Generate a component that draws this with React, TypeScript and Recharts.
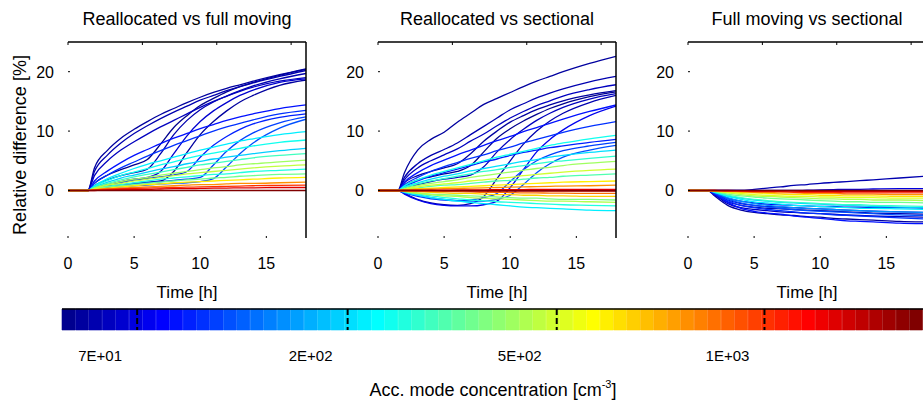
import React from "react"
import { LineChart, Line, XAxis, YAxis, BarChart, Bar, Cell } from "recharts"

const FONT = '"Liberation Sans", Arial, Helvetica, sans-serif'

// time grid [h] shared by every curve
const hours = [0, 1.5, 2, 3, 4, 5, 6, 7, 8, 9, 10, 11, 12, 13, 14, 16, 18]
const xTicks = [0, 5, 10, 15]
const yTicks = [0, 10, 20]
const xDomain = [0, 18]
const yDomain = [-8, 25]

const panelTitles = ["Reallocated vs full moving", "Reallocated vs sectional", "Full moving vs sectional"]

// colour level of each curve (index into the 64-step jet colormap of the colorbar)
const realFullLevels = [1, 2, 3, 0, 2, 4, 1, 8, 10, 9, 11, 12, 22, 24, 20, 27, 33, 35, 25, 30, 40, 46, 52, 57, 63]
// relative difference [%] of each curve at the times in `hours`
const realFullValues = [
    [0, 0, 3.8, 6.8, 8.8, 10.3, 11.6, 12.8, 13.8, 14.8, 15.7, 16.5, 17.2, 17.8, 18.4, 19.5, 20.5],
    [0, 0, 3.2, 6.0, 8.0, 9.6, 10.9, 12.1, 13.2, 14.2, 15.2, 16.0, 16.8, 17.5, 18.1, 19.2, 20.2],
    [0, 0, 2.5, 5.0, 6.8, 8.2, 9.5, 10.7, 11.8, 12.9, 14.0, 15.0, 15.9, 16.7, 17.4, 18.4, 19.0],
    [0, 0, 1.2, 2.6, 3.5, 4.3, 5.2, 7.8, 10.6, 12.6, 14.3, 15.5, 16.6, 17.5, 18.2, 19.4, 20.4],
    [0, 0, 0.8, 1.8, 2.5, 3.0, 3.6, 6.2, 9.4, 11.8, 13.6, 14.9, 15.9, 16.8, 17.6, 18.8, 19.7],
    [0, 0, 0.5, 1.0, 1.5, 1.9, 2.2, 3.2, 6.2, 9.2, 11.6, 13.4, 14.8, 16.0, 16.9, 18.2, 18.8],
    [0, 0, 0.3, 0.7, 0.9, 1.2, 1.4, 1.6, 3.2, 6.4, 9.4, 11.6, 13.4, 14.9, 16.0, 17.7, 18.6],
    [0, 0, 1.6, 3.3, 4.7, 5.9, 6.9, 7.9, 8.8, 9.6, 10.4, 11.1, 11.8, 12.4, 12.9, 13.8, 14.4],
    [0, 0, 1.2, 2.6, 3.8, 4.8, 5.8, 6.7, 7.6, 8.4, 9.2, 10.0, 10.7, 11.3, 11.9, 12.9, 13.5],
    [0, 0, 0.5, 0.9, 1.3, 1.7, 2.0, 2.3, 2.6, 3.2, 5.6, 7.6, 9.1, 10.3, 11.2, 12.3, 12.9],
    [0, 0, 0.4, 0.7, 0.9, 1.1, 1.3, 1.5, 1.7, 1.9, 2.2, 4.3, 6.6, 8.4, 9.7, 11.4, 12.4],
    [0, 0, 0.3, 0.5, 0.6, 0.8, 0.9, 1.1, 1.2, 1.3, 1.5, 2.0, 4.0, 6.2, 8.0, 10.5, 12.0],
    [0, 0, 0.8, 2.0, 2.9, 3.7, 4.4, 5.0, 5.6, 6.2, 6.8, 7.3, 7.8, 8.3, 8.7, 9.4, 9.9],
    [0, 0, 0.7, 1.7, 2.5, 3.1, 3.7, 4.3, 4.8, 5.4, 5.9, 6.3, 6.7, 7.1, 7.5, 8.1, 8.5],
    [0, 0, 0.6, 1.4, 2.1, 2.6, 3.1, 3.6, 4.0, 4.5, 4.9, 5.3, 5.6, 5.9, 6.2, 6.7, 7.1],
    [0, 0, 0.5, 1.2, 1.8, 2.3, 2.7, 3.1, 3.5, 3.9, 4.3, 4.6, 4.9, 5.2, 5.5, 5.9, 6.2],
    [0, 0, 0.4, 1.0, 1.5, 1.9, 2.2, 2.6, 2.9, 3.2, 3.5, 3.8, 4.0, 4.3, 4.5, 4.8, 5.1],
    [0, 0, 0.3, 0.9, 1.2, 1.6, 1.9, 2.2, 2.5, 2.8, 3.0, 3.2, 3.4, 3.6, 3.8, 4.1, 4.3],
    [0, 0, 0.3, 0.7, 1.0, 1.3, 1.6, 1.9, 2.1, 2.3, 2.5, 2.7, 2.8, 3.0, 3.2, 3.4, 3.6],
    [0, 0, 0.2, 0.6, 0.8, 1.0, 1.2, 1.4, 1.6, 1.8, 1.9, 2.1, 2.2, 2.4, 2.5, 2.7, 2.8],
    [0, 0, 0.2, 0.4, 0.6, 0.8, 1.0, 1.1, 1.3, 1.4, 1.5, 1.6, 1.7, 1.8, 1.9, 2.1, 2.2],
    [0, 0, 0.1, 0.3, 0.4, 0.5, 0.6, 0.7, 0.8, 0.9, 1.0, 1.0, 1.1, 1.2, 1.2, 1.3, 1.4],
    [0, 0, 0.1, 0.2, 0.3, 0.35, 0.4, 0.45, 0.5, 0.55, 0.6, 0.65, 0.7, 0.75, 0.8, 0.85, 0.9],
    [0, 0, 0, 0.1, 0.15, 0.2, 0.2, 0.25, 0.3, 0.3, 0.35, 0.4, 0.4, 0.45, 0.45, 0.5, 0.5],
    [0, 0, 0, 0, 0, 0, 0, 0, 0, 0, 0, 0, 0, 0, 0, 0, 0],
]

const realSectLevels = [1, 2, 3, 1, 0, 3, 2, 6, 8, 10, 9, 11, 12, 24, 21, 26, 33, 36, 28, 40, 46, 55, 22, 25, 34, 31, 42, 48, 60, 63]
const realSectValues = [
    [0, 0, 3.0, 6.8, 8.6, 9.8, 11.5, 13.0, 14.5, 15.5, 16.5, 17.5, 18.4, 19.2, 20.0, 21.4, 22.6],
    [0, 0, 2.2, 4.5, 5.9, 6.9, 8.0, 9.4, 10.8, 12.2, 13.6, 14.6, 15.6, 16.4, 17.1, 18.3, 19.2],
    [0, 0, 1.8, 3.8, 5.0, 6.0, 7.0, 8.3, 9.5, 10.9, 12.2, 13.3, 14.3, 15.1, 15.9, 17.0, 17.8],
    [0, 0, 1.3, 2.5, 3.2, 3.8, 4.5, 6.2, 8.3, 10.0, 11.5, 12.6, 13.6, 14.4, 15.1, 16.1, 16.8],
    [0, 0, 0.8, 1.8, 2.3, 2.8, 3.2, 4.2, 6.5, 8.8, 10.4, 11.7, 12.8, 13.8, 14.6, 15.8, 16.6],
    [0, 0, 0.5, 1.0, 1.5, 1.9, 2.2, 2.6, 4.0, 6.5, 8.6, 10.3, 11.8, 13.0, 14.0, 15.4, 16.3],
    [0, 0, -0.5, -1.5, -2.1, -2.4, -2.5, -2.2, -1.0, 2.0, 5.0, 7.8, 10.0, 11.7, 13.0, 14.8, 16.0],
    [0, 0, -0.6, -1.6, -2.2, -2.5, -2.6, -2.6, -2.4, -1.8, 0.5, 3.5, 6.5, 8.6, 10.2, 12.6, 14.2],
    [0, 0, 1.4, 3.0, 4.2, 5.1, 6.0, 6.8, 7.6, 8.4, 9.1, 9.9, 10.6, 11.3, 12.0, 13.3, 14.4],
    [0, 0, 1.0, 2.2, 3.2, 4.0, 4.7, 5.4, 6.0, 6.7, 7.3, 8.0, 8.6, 9.2, 9.8, 10.8, 11.6],
    [0, 0, 0.7, 1.6, 2.4, 3.0, 3.6, 4.2, 4.8, 5.3, 5.9, 6.4, 6.8, 7.2, 7.5, 8.1, 8.6],
    [0, 0, -0.4, -1.0, -1.4, -1.6, -1.7, -1.6, -1.2, -0.5, 1.5, 3.5, 5.0, 6.0, 6.7, 7.5, 8.1],
    [0, 0, -0.3, -0.8, -1.2, -1.5, -1.7, -1.8, -1.8, -1.5, -0.8, 1.0, 3.0, 4.5, 5.6, 6.8, 7.6],
    [0, 0, 0.8, 1.8, 2.6, 3.2, 3.8, 4.4, 5.0, 5.6, 6.1, 6.6, 7.1, 7.6, 8.0, 8.7, 9.3],
    [0, 0, 0.6, 1.3, 1.9, 2.4, 2.8, 3.3, 3.7, 4.1, 4.5, 4.9, 5.2, 5.6, 5.9, 6.4, 6.8],
    [0, 0, 0.5, 1.1, 1.6, 2.0, 2.4, 2.8, 3.2, 3.5, 3.9, 4.2, 4.5, 4.8, 5.0, 5.4, 5.8],
    [0, 0, 0.3, 0.8, 1.2, 1.5, 1.8, 2.2, 2.5, 2.8, 3.1, 3.4, 3.7, 3.9, 4.2, 4.6, 4.9],
    [0, 0, 0.2, 0.6, 0.9, 1.1, 1.3, 1.6, 1.8, 2.0, 2.2, 2.5, 2.7, 2.9, 3.1, 3.4, 3.6],
    [0, 0, 0.2, 0.4, 0.7, 0.9, 1.0, 1.2, 1.4, 1.6, 1.7, 1.9, 2.1, 2.2, 2.4, 2.6, 2.8],
    [0, 0, 0.1, 0.3, 0.4, 0.5, 0.6, 0.7, 0.8, 0.9, 1.0, 1.1, 1.2, 1.3, 1.4, 1.5, 1.6],
    [0, 0, 0.1, 0.2, 0.25, 0.3, 0.35, 0.4, 0.45, 0.5, 0.55, 0.6, 0.65, 0.7, 0.75, 0.8, 0.9],
    [0, 0, 0, 0, 0.05, 0.05, 0.1, 0.1, 0.1, 0.15, 0.15, 0.15, 0.2, 0.2, 0.2, 0.2, 0.2],
    [0, 0, -0.3, -0.8, -1.2, -1.5, -1.8, -2.0, -2.2, -2.4, -2.6, -2.8, -2.9, -3.0, -3.1, -3.3, -3.4],
    [0, 0, -0.2, -0.6, -0.9, -1.2, -1.4, -1.6, -1.7, -1.9, -2.0, -2.1, -2.2, -2.3, -2.4, -2.5, -2.6],
    [0, 0, -0.2, -0.5, -0.7, -0.9, -1.0, -1.2, -1.3, -1.4, -1.5, -1.6, -1.7, -1.8, -1.8, -1.9, -2.0],
    [0, 0, -0.1, -0.4, -0.6, -0.7, -0.8, -0.9, -1.0, -1.1, -1.2, -1.3, -1.3, -1.4, -1.5, -1.5, -1.6],
    [0, 0, -0.1, -0.2, -0.3, -0.4, -0.5, -0.5, -0.6, -0.7, -0.7, -0.8, -0.8, -0.9, -0.9, -1.0, -1.0],
    [0, 0, 0, -0.1, -0.15, -0.2, -0.2, -0.25, -0.3, -0.3, -0.35, -0.4, -0.4, -0.45, -0.45, -0.5, -0.5],
    [0, 0, 0, 0, 0, -0.05, -0.05, -0.1, -0.1, -0.1, -0.1, -0.1, -0.1, -0.1, -0.1, -0.1, -0.1],
    [0, 0, 0, 0, 0, 0, 0, 0, 0, 0, 0, 0, 0, 0, 0, 0, 0],
]

const fullSectLevels = [2, 5, 1, 8, 3, 10, 2, 12, 4, 16, 22, 6, 26, 20, 30, 34, 37, 41, 46, 52, 57, 63]
const fullSectValues = [
    [0, 0, 0, 0, 0, 0.2, 0.4, 0.6, 0.85, 1.0, 1.2, 1.35, 1.5, 1.65, 1.8, 2.1, 2.4],
    [0, 0, 0, 0, 0, 0, 0, 0, 0, 0.05, 0.1, 0.15, 0.2, 0.2, 0.25, 0.3, 0.3],
    [0, 0, -0.9, -2.5, -3.3, -3.7, -3.9, -4.1, -4.2, -4.4, -4.5, -4.7, -4.8, -4.9, -5.0, -5.2, -5.3],
    [0, 0, -0.6, -2.0, -3.0, -3.5, -3.8, -4.0, -4.3, -4.5, -4.7, -4.9, -5.1, -5.2, -5.3, -5.5, -5.6],
    [0, 0, -0.7, -2.2, -2.9, -3.2, -3.4, -3.6, -3.7, -3.8, -3.9, -4.0, -4.1, -4.2, -4.3, -4.4, -4.5],
    [0, 0, -0.5, -1.7, -2.5, -2.9, -3.2, -3.4, -3.6, -3.8, -3.9, -4.1, -4.2, -4.3, -4.4, -4.6, -4.8],
    [0, 0, -0.6, -1.9, -2.5, -2.8, -3.0, -3.1, -3.2, -3.3, -3.4, -3.5, -3.6, -3.7, -3.8, -3.9, -4.0],
    [0, 0, -0.4, -1.4, -2.1, -2.5, -2.8, -3.0, -3.2, -3.4, -3.5, -3.6, -3.7, -3.8, -3.9, -4.1, -4.2],
    [0, 0, -0.5, -1.6, -2.2, -2.5, -2.7, -2.8, -2.9, -3.0, -3.1, -3.2, -3.3, -3.4, -3.5, -3.6, -3.7],
    [0, 0, -0.3, -1.2, -1.8, -2.2, -2.5, -2.7, -2.9, -3.0, -3.1, -3.2, -3.3, -3.4, -3.5, -3.6, -3.7],
    [0, 0, -0.3, -1.0, -1.5, -1.9, -2.1, -2.3, -2.5, -2.6, -2.7, -2.8, -2.9, -3.0, -3.0, -3.1, -3.2],
    [0, 0, -0.4, -1.3, -1.8, -2.1, -2.3, -2.4, -2.5, -2.6, -2.7, -2.7, -2.8, -2.8, -2.9, -2.9, -3.0],
    [0, 0, -0.2, -0.8, -1.2, -1.5, -1.7, -1.9, -2.0, -2.1, -2.2, -2.3, -2.4, -2.4, -2.5, -2.6, -2.7],
    [0, 0, -0.2, -0.9, -1.3, -1.6, -1.8, -2.0, -2.1, -2.2, -2.3, -2.4, -2.5, -2.6, -2.7, -2.8, -2.9],
    [0, 0, -0.2, -0.6, -0.9, -1.1, -1.3, -1.4, -1.5, -1.6, -1.7, -1.8, -1.9, -1.9, -2.0, -2.0, -2.1],
    [0, 0, -0.1, -0.4, -0.7, -0.9, -1.0, -1.1, -1.2, -1.3, -1.4, -1.4, -1.5, -1.5, -1.6, -1.6, -1.7],
    [0, 0, -0.1, -0.3, -0.5, -0.7, -0.8, -0.9, -1.0, -1.0, -1.1, -1.1, -1.2, -1.2, -1.2, -1.3, -1.3],
    [0, 0, -0.1, -0.2, -0.3, -0.4, -0.5, -0.6, -0.7, -0.7, -0.8, -0.8, -0.9, -0.9, -0.9, -1.0, -1.0],
    [0, 0, 0, -0.1, -0.2, -0.3, -0.3, -0.4, -0.4, -0.5, -0.5, -0.5, -0.6, -0.6, -0.6, -0.7, -0.7],
    [0, 0, 0, -0.1, -0.1, -0.2, -0.2, -0.2, -0.3, -0.3, -0.3, -0.3, -0.4, -0.4, -0.4, -0.4, -0.4],
    [0, 0, 0, 0, -0.05, -0.1, -0.1, -0.1, -0.1, -0.15, -0.15, -0.15, -0.2, -0.2, -0.2, -0.2, -0.2],
    [0, 0, 0, 0, 0, 0, 0, 0, 0, 0, 0, 0, 0, 0, 0, 0, 0],
]

// colorbar
const colorLevels = Array.from({ length: 64 }, (_, i) => i)
const colorbarTickLevels = [5.5, 20.9, 36.2, 51.4]
const colorbarTickLabels = ["7E+01", "2E+02", "5E+02", "1E+03"]

// MATLAB jet(64)
function jet(level: number) {
    const n = 16
    const u: number[] = []
    for (let k = 1; k <= n; k++) u.push(k / n)
    for (let k = 1; k < n; k++) u.push(1)
    for (let k = n; k >= 1; k--) u.push(k / n)
    const row = Math.round(level) + 1
    const at = (i: number) => (i >= 0 && i < u.length ? u[i] : 0)
    const r = at(row - 25), g = at(row - 9), b = at(row + 7)
    const c = (v: number) => Math.round(v * 255)
    return `rgb(${c(r)},${c(g)},${c(b)})`
}

const BottomTick = (p: any) => (
    <g>
        <line x1={p.x} x2={p.x} y1={p.y - 2} y2={p.y} stroke="#000" />
        <text x={p.x} y={p.y + 31} textAnchor="middle" fontSize={16} fontFamily={FONT} fill="#000">{p.payload.value}</text>
    </g>
)
const LeftTick = (p: any) => (
    <g>
        <line x1={p.x} x2={p.x + 2} y1={p.y} y2={p.y} stroke="#000" />
        <text x={p.x - 14} y={p.y + 6} textAnchor="end" fontSize={16} fontFamily={FONT} fill="#000">{p.payload.value}</text>
    </g>
)
const TopTick = (p: any) => <line x1={p.x} x2={p.x} y1={p.y} y2={p.y + 3} stroke="#000" />
const RightTick = (p: any) => <line x1={p.x - 3} x2={p.x} y1={p.y} y2={p.y} stroke="#000" />

function Panel({ left, title, levels, values, showYLabel }: any) {
    const rows = hours.map((t, i) => {
        const r: any = { t }
        values.forEach((s: number[], k: number) => { r["c" + k] = s[i] })
        return r
    })
    const order = levels.map((_: number, k: number) => k).sort((a: number, b: number) => levels[a] - levels[b])
    return (
        <div style={{ position: "absolute", left, top: 0 }}>
            <LineChart width={320} height={305} data={rows} margin={{ top: 41, right: 13, bottom: 0, left: 8 }}>
                <XAxis
                    dataKey="t" type="number" domain={xDomain} ticks={xTicks} height={67} allowDataOverflow
                    axisLine={false} tickLine={false} tickSize={0} tickMargin={0} tick={<BottomTick />}
                    label={() => <text x={187} y={298} textAnchor="middle" fontSize={17} fontFamily={FONT} fill="#000">Time [h]</text>}
                />
                <XAxis
                    xAxisId="top" orientation="top" type="number" domain={xDomain} ticks={xTicks} height={1}
                    axisLine={{ stroke: "#000", strokeWidth: 1.5 }} tickLine={false} tickSize={0} tickMargin={0} tick={<TopTick />}
                    label={() => <text x={187} y={25} textAnchor="middle" fontSize={18} fontFamily={FONT} fill="#000">{title}</text>}
                />
                <YAxis
                    type="number" domain={yDomain} ticks={yTicks} width={60} allowDataOverflow
                    axisLine={false} tickLine={false} tickSize={0} tickMargin={0} tick={<LeftTick />}
                    label={showYLabel ? () => (
                        <text x={26} y={145} transform="rotate(-90 26 145)" textAnchor="middle" fontSize={18} fontFamily={FONT} fill="#000">
                            Relative difference [%]
                        </text>
                    ) : undefined}
                />
                <YAxis
                    yAxisId="right" orientation="right" type="number" domain={yDomain} ticks={yTicks} width={1}
                    axisLine={{ stroke: "#000", strokeWidth: 1.5 }} tickLine={false} tickSize={0} tickMargin={0} tick={<RightTick />}
                />
                {order.map((k: number) => (
                    <Line
                        key={k} dataKey={"c" + k} type="monotone" stroke={jet(levels[k])} strokeWidth={1.3}
                        dot={false} activeDot={false} isAnimationActive={false}
                    />
                ))}
            </LineChart>
        </div>
    )
}

const ColorbarTick = (p: any) => (
    <g>
        <line x1={p.x} x2={p.x} y1={p.y - 21} y2={p.y} stroke="#000" strokeWidth={2} strokeDasharray="6 3" />
        <text x={p.x - 37} y={p.y + 31} textAnchor="middle" fontSize={15} fontFamily={FONT} fill="#000">
            {colorbarTickLabels[p.index]}
        </text>
    </g>
)

function Colorbar() {
    const rows = colorLevels.map((l) => ({ level: l, v: 1 }))
    return (
        <div style={{ position: "absolute", left: 0, top: 300 }}>
            <BarChart width={923} height={105} data={rows} margin={{ top: 8, right: 0, bottom: 0, left: 62 }} barCategoryGap={0} barGap={0}>
                <XAxis xAxisId="cat" dataKey="level" type="category" hide height={0} />
                <YAxis hide domain={[0, 1]} width={0} />
                <Bar xAxisId="cat" dataKey="v" isAnimationActive={false}>
                    {rows.map((r) => <Cell key={r.level} fill={jet(r.level)} stroke={jet(r.level)} strokeWidth={0.6} />)}
                </Bar>
                <XAxis
                    xAxisId="top" orientation="top" type="number" domain={[0, 64]} height={1}
                    axisLine={{ stroke: "#000", strokeWidth: 1.5 }} tick={false} tickLine={false}
                />
                <XAxis
                    xAxisId="num" type="number" domain={[0, 64]} ticks={colorbarTickLevels} height={75}
                    axisLine={false} tickLine={false} tickSize={0} tickMargin={0} tick={<ColorbarTick />}
                    label={() => (
                        <text x={493} y={96} textAnchor="middle" fontSize={18} fontFamily={FONT} fill="#000">
                            Acc. mode concentration [cm<tspan dy={-8} fontSize={11}>-3</tspan><tspan dy={8}>]</tspan>
                        </text>
                    )}
                />
            </BarChart>
        </div>
    )
}

export default function App() {
    return (
        <div style={{ position: "absolute", left: 0, top: 0, width: 923, height: 405, overflow: "hidden", background: "#fff" }}>
            <Panel left={0} title={panelTitles[0]} levels={realFullLevels} values={realFullValues} showYLabel />
            <Panel left={310} title={panelTitles[1]} levels={realSectLevels} values={realSectValues} />
            <Panel left={620} title={panelTitles[2]} levels={fullSectLevels} values={fullSectValues} />
            <Colorbar />
        </div>
    )
}
